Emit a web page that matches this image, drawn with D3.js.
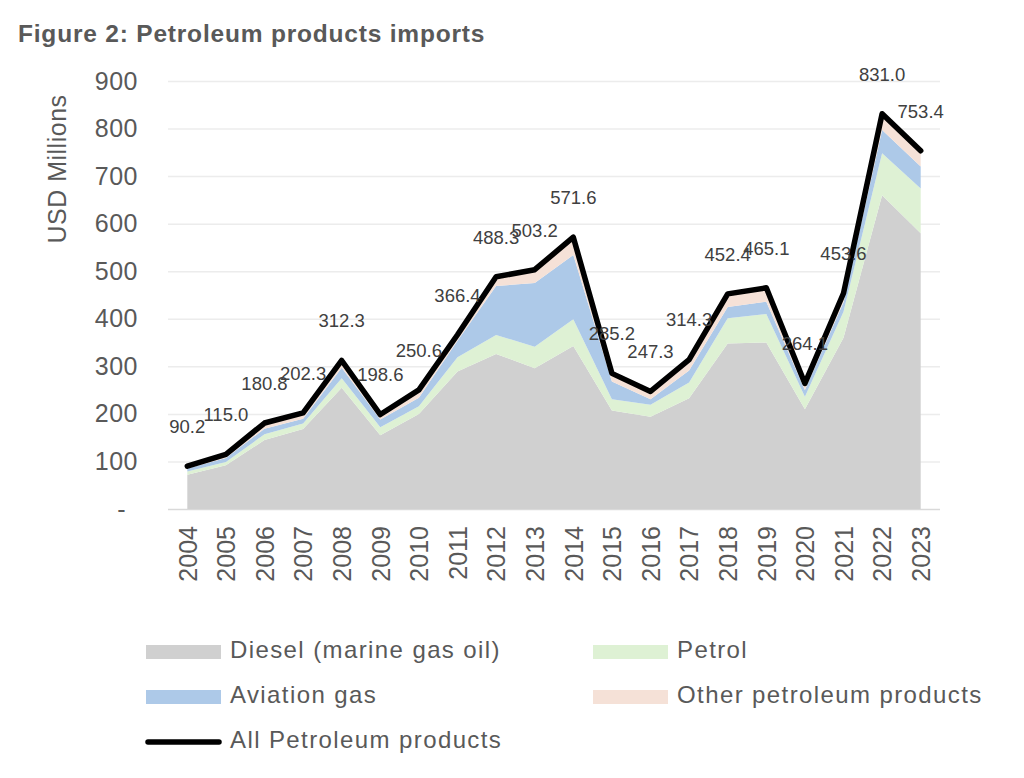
<!DOCTYPE html>
<html>
<head>
<meta charset="utf-8">
<script src="https://cdn.jsdelivr.net/npm/d3@7"></script>
<style>
  body { margin: 0; background: #fff; }
  svg { font-family: "Liberation Sans", Arial, sans-serif; }
</style>
</head>
<body>
<svg id="chart" width="1024" height="778"></svg>
<script>
// data (USD millions)
var years = ["2004","2005","2006","2007","2008","2009","2010","2011","2012","2013",
             "2014","2015","2016","2017","2018","2019","2020","2021","2022","2023"];
var diesel   = [72, 92, 145, 168, 255, 155, 200, 289, 326, 296, 343, 207, 194, 233, 348, 350, 210, 360, 660, 580];
var petrol   = [7, 7, 12, 12, 20, 17, 16, 30, 40, 45, 56, 24, 25, 33, 53, 60, 26, 55, 88, 94];
var aviation = [6, 8, 12, 10, 22, 16, 18, 35, 103, 134, 135, 37, 12, 25, 24, 26, 14, 20, 49, 46];
var other    = [5.2, 8, 11.8, 12.3, 15.3, 10.6, 16.6, 12.4, 19.3, 28.2, 37.6, 17.2, 16.3, 23.3, 27.4, 29.1, 14.1, 18.6, 34, 33.4];
var totals   = [90.2, 115.0, 180.8, 202.3, 312.3, 198.6, 250.6, 366.4, 488.3, 503.2,
                571.6, 285.2, 247.3, 314.3, 452.4, 465.1, 264.1, 453.6, 831.0, 753.4];
var yTicks = [0, 100, 200, 300, 400, 500, 600, 700, 800, 900];

var seriesKeys   = ["diesel", "petrol", "aviation", "other"];
var seriesNames  = ["Diesel (marine gas oil)", "Petrol", "Aviation gas", "Other petroleum products"];
var seriesColors = ["#d0d0d0", "#def1d4", "#adc9e8", "#f5e1d7"];

var rows = years.map(function(yr, i) {
	return { year: yr, diesel: diesel[i], petrol: petrol[i], aviation: aviation[i], other: other[i], total: totals[i] };
});

var svg = d3.select("#chart");
var plotLeft = 168, plotRight = 940, plotTop = 81, plotBottom = 509;

var x = d3.scalePoint().domain(years).range([plotLeft, plotRight]).padding(0.5);
var y = d3.scaleLinear().domain([0, 900]).range([plotBottom, plotTop]);

// title
svg.append("text")
	.attr("x", 18)
	.attr("y", 42)
	.attr("font-size", 24.5)
	.attr("font-weight", "bold")
	.attr("letter-spacing", 0.8)
	.attr("fill", "#595959")
	.text("Figure 2: Petroleum products imports");

// y axis with gridlines
var yAxis = svg.append("g")
	.attr("transform", "translate(" + plotLeft + ",0)")
	.call(d3.axisLeft(y)
		.tickValues(yTicks)
		.tickSize(-(plotRight - plotLeft))
		.tickPadding(30)
		.tickFormat(function(d) { return d === 0 ? "-" : d; }));
yAxis.select(".domain").remove();
yAxis.selectAll(".tick line")
	.attr("stroke", function(d) { return d === 0 ? "#d9d9d9" : "#ececec"; })
	.attr("stroke-width", 1.5);
yAxis.selectAll(".tick text")
	.attr("font-size", 25)
	.attr("letter-spacing", 0.5)
	.attr("fill", "#595959")
	.attr("dx", function(d) { return d === 0 ? -12 : 0; });

svg.append("text")
	.attr("transform", "translate(59,169) rotate(-90)")
	.attr("text-anchor", "middle")
	.attr("dominant-baseline", "middle")
	.attr("font-size", 25)
	.attr("letter-spacing", 0.5)
	.attr("fill", "#595959")
	.text("USD Millions");

// stacked areas
var stack = d3.stack().keys(seriesKeys);
var layers = stack(rows);

var area = d3.area()
	.x(function(d) { return x(d.data.year); })
	.y0(function(d) { return y(d[0]); })
	.y1(function(d) { return y(d[1]); });

svg.append("g").selectAll("path")
	.data(layers)
	.join("path")
	.attr("d", area)
	.attr("fill", function(d, i) { return seriesColors[i]; });

// total line
var line = d3.line()
	.x(function(d) { return x(d.year); })
	.y(function(d) { return y(d.total); });

svg.append("path")
	.datum(rows)
	.attr("d", line)
	.attr("fill", "none")
	.attr("stroke", "#000")
	.attr("stroke-width", 5.5)
	.attr("stroke-linejoin", "round")
	.attr("stroke-linecap", "round");

// data labels
svg.append("g").selectAll("text")
	.data(rows)
	.join("text")
	.attr("x", function(d) { return x(d.year); })
	.attr("y", function(d) { return y(d.total) - 38; })
	.attr("text-anchor", "middle")
	.attr("dominant-baseline", "middle")
	.attr("font-size", 18.5)
	.attr("fill", "#404040")
	.text(function(d) { return d.total.toFixed(1); });

// x axis
var xAxis = svg.append("g")
	.attr("transform", "translate(0," + plotBottom + ")")
	.call(d3.axisBottom(x).tickSize(0));
xAxis.select(".domain").remove();
xAxis.selectAll(".tick text")
	.attr("transform", "rotate(-90)")
	.attr("x", -17)
	.attr("y", 0)
	.attr("dy", "0.35em")
	.attr("text-anchor", "end")
	.attr("font-size", 25)
	.attr("fill", "#595959");

// legend
var legendItems = [
	{ name: seriesNames[0], color: seriesColors[0], x: 146, y: 652 },
	{ name: seriesNames[1], color: seriesColors[1], x: 593, y: 652 },
	{ name: seriesNames[2], color: seriesColors[2], x: 146, y: 697 },
	{ name: seriesNames[3], color: seriesColors[3], x: 593, y: 697 }
];

var legend = svg.append("g");
legendItems.forEach(function(item) {
	legend.append("rect")
		.attr("x", item.x)
		.attr("y", item.y - 7)
		.attr("width", 75)
		.attr("height", 14)
		.attr("fill", item.color);
	legend.append("text")
		.attr("x", item.x + 84)
		.attr("y", item.y)
		.attr("dominant-baseline", "middle")
		.attr("font-size", 24)
		.attr("letter-spacing", 1.4)
		.attr("fill", "#595959")
		.text(item.name);
});

legend.append("line")
	.attr("x1", 148).attr("x2", 219)
	.attr("y1", 742).attr("y2", 742)
	.attr("stroke", "#000")
	.attr("stroke-width", 5.5)
	.attr("stroke-linecap", "round");
legend.append("text")
	.attr("x", 230)
	.attr("y", 742)
	.attr("dominant-baseline", "middle")
	.attr("font-size", 24)
	.attr("letter-spacing", 1.4)
	.attr("fill", "#595959")
	.text("All Petroleum products");
</script>
</body>
</html>
